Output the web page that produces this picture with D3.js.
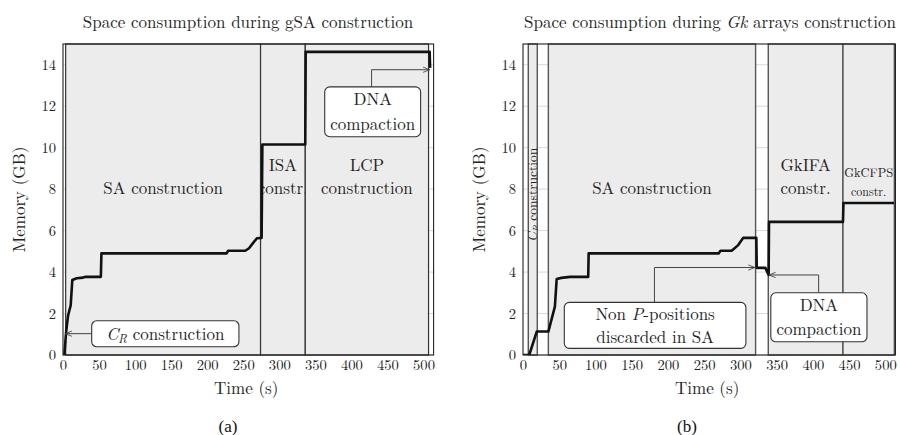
<!DOCTYPE html>
<html>
<head>
<meta charset="utf-8">
<script src="https://cdn.jsdelivr.net/npm/d3@7/dist/d3.min.js"></script>
</head>
<body style="margin:0;padding:0;background:#fff">
<svg id="chart" width="900" height="435" style="display:block"></svg>
<script>
// ---------------- data ----------------
const xTicks = [0, 50, 100, 150, 200, 250, 300, 350, 400, 450, 500];
const yTicks = [0, 2, 4, 6, 8, 10, 12, 14];

// (a) gSA construction
const leftTime = [1.8, 4.2, 7, 10.7, 12.9, 19, 28, 30.5, 52.5, 53.3, 227, 229, 252.8, 258, 264, 269, 275.5, 276.5, 336, 336.6, 508.5, 509.2];
const leftMem  = [0, 1.06, 1.9, 2.4, 3.62, 3.7, 3.73, 3.77, 3.77, 4.9, 4.9, 5.03, 5.03, 5.15, 5.42, 5.63, 5.65, 10.15, 10.15, 14.62, 14.62, 13.85];
const leftPhaseStart = [3.7, 274, 336];
const leftPhaseEnd   = [274, 336, 507];
const leftPhaseLabels = [["SA construction"], ["ISA", "constr."], ["LCP", "construction"]];

// (b) Gk arrays construction
const rightTime = [0, 8.6, 19, 35, 44, 46.5, 53, 65, 90, 90.6, 270, 272.5, 288, 297, 304, 322, 322.6, 334.5, 339, 339.5, 441.6, 442.2, 512];
const rightMem  = [0, 0, 1.13, 1.13, 2.33, 3.67, 3.72, 3.77, 3.77, 4.9, 4.9, 5.03, 5.03, 5.3, 5.65, 5.65, 4.2, 4.2, 3.86, 6.42, 6.42, 7.33, 7.33];
const rightPhaseStart = [7.3, 35, 338.5, 441.6];
const rightPhaseEnd   = [19.7, 321, 441.6, 512.5];
const rightPhaseLabels = [["CR construction"], ["SA construction"], ["GkIFA", "constr."], ["GkCFPS", "constr."]];

// ---------------- layout ----------------
const svg = d3.select("#chart");
const FF = '"Latin Modern Roman", "CMU Serif", "Liberation Serif", serif';
const FONT = 17, TICKFONT = 14.6;
const yRange = [355, 44];
const xDomain = [0, 514], yDomain = [0, 15];

function txt(sel) { return sel.style("font-family", FF).style("fill", "#222"); }

const defs = svg.append("defs");
defs.append("marker").attr("id", "arr").attr("viewBox", "0 -4 8 8")
  .attr("refX", 7.5).attr("refY", 0).attr("markerWidth", 7).attr("markerHeight", 7)
  .attr("markerUnits", "userSpaceOnUse").attr("orient", "auto")
  .append("path").attr("d", "M0,-3L7.5,0L0,3").attr("fill", "none").attr("stroke", "#444").attr("stroke-width", 1);

function panel(opt) {
  const x = d3.scaleLinear().domain(xDomain).range(opt.xRange);
  const y = d3.scaleLinear().domain(yDomain).range(yRange);
  const g = svg.append("g");
  const id = opt.id;

  defs.append("clipPath").attr("id", id + "-plot").append("rect")
    .attr("x", x(xDomain[0])).attr("y", y(yDomain[1]))
    .attr("width", x(xDomain[1]) - x(xDomain[0])).attr("height", y(0) - y(yDomain[1]));

  // gridlines
  g.append("g").selectAll("line").data(yTicks).join("line")
    .attr("x1", x(xDomain[0])).attr("x2", x(xDomain[1]))
    .attr("y1", d => y(d)).attr("y2", d => y(d))
    .attr("stroke", "#d9d9d9").attr("stroke-width", 1);

  // phase rectangles
  const phases = opt.start.map((s, i) => ({ s, e: opt.end[i], lab: opt.labels[i], i }));
  phases.forEach(p => {
    defs.append("clipPath").attr("id", id + "-ph" + p.i).append("rect")
      .attr("x", x(p.s)).attr("y", y(yDomain[1])).attr("width", x(p.e) - x(p.s)).attr("height", y(0) - y(yDomain[1]));
  });
  g.append("g").selectAll("rect").data(phases).join("rect")
    .attr("x", d => x(d.s)).attr("y", y(yDomain[1]))
    .attr("width", d => x(d.e) - x(d.s)).attr("height", y(0) - y(yDomain[1]))
    .attr("fill", "#ececec").attr("stroke", opt.phaseStroke).attr("stroke-width", opt.phaseStrokeW);

  // phase labels
  phases.forEach(p => {
    const cx = x((p.s + p.e) / 2);
    const cfg = opt.labelCfg[p.i];
    const lg = g.append("g").attr("clip-path", `url(#${id}-ph${p.i})`);
    if (cfg.rotate) {
      const t = txt(lg.append("text")).attr("transform", `translate(${cx + cfg.fs * 0.33},${y(cfg.y[0])}) rotate(-90)`)
        .attr("text-anchor", "middle").attr("font-size", cfg.fs);
      t.append("tspan").attr("font-style", "italic").text("C");
      t.append("tspan").attr("font-style", "italic").attr("font-size", cfg.fs * 0.7).attr("dy", cfg.fs * 0.22).text("R");
      t.append("tspan").attr("dy", -cfg.fs * 0.22).text(" construction");
    } else {
      p.lab.forEach((line, k) => {
        txt(lg.append("text")).attr("x", cx).attr("y", y(cfg.y[k])).attr("dy", "0.35em")
          .attr("text-anchor", "middle").attr("font-size", cfg.fs[k]).text(line);
      });
    }
  });

  // memory line
  const pts = opt.time.map((t, i) => [t, opt.mem[i]]);
  g.append("path").datum(pts).attr("clip-path", `url(#${id}-plot)`)
    .attr("d", d3.line().x(d => x(d[0])).y(d => y(d[1])))
    .attr("fill", "none").attr("stroke", "#111").attr("stroke-width", 2.6).attr("stroke-linejoin", "round");

  // annotations
  opt.notes.forEach(n => {
    g.append("path")
      .attr("d", d3.line().x(d => x(d[0])).y(d => y(d[1]))(n.path))
      .attr("fill", "none").attr("stroke", "#444").attr("stroke-width", 1).attr("marker-end", "url(#arr)");
    g.append("rect").attr("x", x(n.box[0])).attr("y", y(n.box[3]))
      .attr("width", x(n.box[1]) - x(n.box[0])).attr("height", y(n.box[2]) - y(n.box[3]))
      .attr("rx", 5).attr("fill", "#fff").attr("stroke", "#333").attr("stroke-width", 1.1);
    const cx = x((n.box[0] + n.box[1]) / 2);
    const cyTop = y(n.box[3]), cyBot = y(n.box[2]);
    const nl = n.lines.length;
    n.lines.forEach((line, k) => {
      const ty = cyTop + (cyBot - cyTop) * (k + 0.5) / nl;
      const t = txt(g.append("text")).attr("x", cx).attr("y", ty).attr("dy", "0.35em")
        .attr("text-anchor", "middle").attr("font-size", FONT);
      line.forEach(seg => {
        const ts = t.append("tspan").text(seg.t);
        if (seg.it) ts.attr("font-style", "italic");
        if (seg.sub) ts.attr("font-size", FONT * 0.7).attr("dy", FONT * 0.22);
        if (seg.up) ts.attr("dy", -FONT * 0.22);
      });
    });
  });

  // frame
  g.append("rect").attr("x", x(xDomain[0])).attr("y", y(yDomain[1]))
    .attr("width", x(xDomain[1]) - x(xDomain[0])).attr("height", y(0) - y(yDomain[1]))
    .attr("fill", "none").attr("stroke", "#222").attr("stroke-width", 1.1);

  // axes
  const ax = g.append("g").attr("transform", `translate(0,${y(0)})`)
    .call(d3.axisBottom(x).tickValues(xTicks).tickSize(0).tickPadding(5));
  const ay = g.append("g").attr("transform", `translate(${x(0)},0)`)
    .call(d3.axisLeft(y).tickValues(yTicks).tickSize(0).tickPadding(7));
  [ax, ay].forEach(a => {
    a.select(".domain").remove();
    txt(a.selectAll("text")).attr("font-size", TICKFONT);
  });

  // axis titles
  txt(g.append("text")).attr("x", x(250) + 3).attr("y", 388).attr("dy", "0.35em")
    .attr("text-anchor", "middle").attr("font-size", FONT).text("Time (s)");
  txt(g.append("text")).attr("transform", `translate(${x(0) - 44},${(y(0) + y(15)) / 2}) rotate(-90)`)
    .attr("dy", "0.35em").attr("text-anchor", "middle").attr("font-size", FONT).text("Memory (GB)");

  // title
  const tt = txt(g.append("text")).attr("x", opt.titleX).attr("y", 22).attr("dy", "0.35em")
    .attr("text-anchor", "middle").attr("font-size", FONT);
  opt.title.forEach(seg => {
    const s = tt.append("tspan").text(seg.t);
    if (seg.it) s.attr("font-style", "italic");
  });

  // caption
  g.append("text").attr("x", opt.capX).attr("y", 426).attr("dy", "0.35em")
    .attr("text-anchor", "middle").attr("font-size", 17)
    .style("font-family", '"Liberation Serif", "Times New Roman", serif').style("fill", "#111").text(opt.caption);
}

panel({
  id: "L", xRange: [63, 63 + 514 * 0.721],
  phaseStroke: "#333", phaseStrokeW: 1.2,
  time: leftTime, mem: leftMem,
  start: leftPhaseStart, end: leftPhaseEnd, labels: leftPhaseLabels,
  labelCfg: [
    { y: [8.06], fs: [FONT] },
    { y: [9.14, 8.06], fs: [FONT, FONT] },
    { y: [9.14, 8.06], fs: [FONT, FONT] }
  ],
  notes: [
    { box: [39.8, 244, 0.4, 1.65], path: [[39.8, 1.03], [3.2, 1.03]],
      lines: [[{ t: "C", it: true }, { t: "R", it: true, sub: true }, { t: " construction", up: true }]] },
    { box: [363, 496, 10.53, 12.93], path: [[428, 12.93], [428, 13.76], [508.6, 13.76]],
      lines: [[{ t: "DNA" }], [{ t: "compaction" }]] }
  ],
  title: [{ t: "Space consumption during gSA construction" }],
  titleX: 248, capX: 228, caption: "(a)"
});

panel({
  id: "R", xRange: [523, 523 + 514 * 0.7246],
  phaseStroke: "#555", phaseStrokeW: 1.4,
  time: rightTime, mem: rightMem,
  start: rightPhaseStart, end: rightPhaseEnd, labels: rightPhaseLabels,
  labelCfg: [
    { y: [7.73], fs: 13.5, rotate: true },
    { y: [8.06], fs: [FONT] },
    { y: [9.14, 8.06], fs: [FONT, FONT] },
    { y: [8.8, 7.85], fs: [12.5, 12] }
  ],
  notes: [
    { box: [57, 307.6, 0.32, 2.54], path: [[181.4, 2.54], [181.4, 4.22], [320, 4.22]],
      lines: [[{ t: "Non " }, { t: "P", it: true }, { t: "-positions" }], [{ t: "discarded in SA" }]] },
    { box: [342, 474.7, 0.64, 3.0], path: [[408, 3.0], [408, 3.86], [339.6, 3.86]],
      lines: [[{ t: "DNA" }], [{ t: "compaction" }]] }
  ],
  title: [{ t: "Space consumption during " }, { t: "Gk", it: true }, { t: " arrays construction" }],
  titleX: 710, capX: 687, caption: "(b)"
});
</script>
</body>
</html>
